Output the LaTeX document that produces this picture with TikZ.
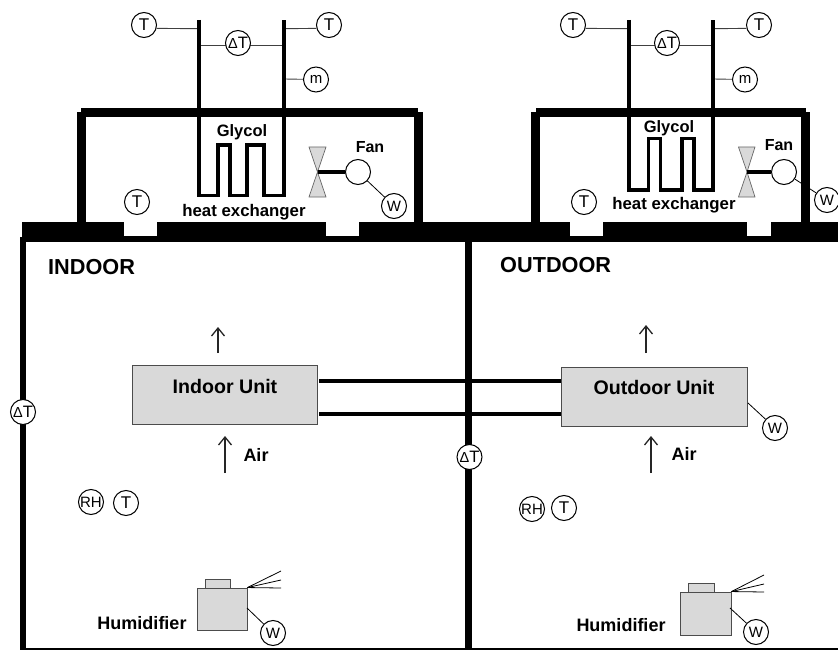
\documentclass[tikz,border=0pt]{standalone}
\usepackage{fontspec}
\setmainfont{Liberation Sans}
\usetikzlibrary{arrows.meta}
\newcommand{\dT}{{\fontsize{14.5}{14.5}\selectfont Δ}T}
\tikzset{
  sensor/.style={circle,draw=black,fill=white,line width=1pt,minimum size=25pt,inner sep=0pt,font=\fontsize{17}{17}\selectfont},
  small/.style={sensor,font=\fontsize{15}{15}\selectfont},
  delta/.style={sensor,font=\fontsize{16.5}{16.5}\selectfont},
  lab/.style={inner sep=0pt,font=\fontsize{#1}{#1}\bfseries\selectfont},
  wall/.style={fill=black},
  pipe/.style={line width=3.7pt,draw=black,line join=miter,line cap=butt},
  tube/.style={line width=4pt,draw=black},
  thin/.style={line width=0.9pt,draw=black!75},
  wire/.style={line width=0.8pt,draw=black},
  unit/.style={rectangle,draw=black!70,fill=black!15,line width=1pt,inner sep=0pt},
  fanblade/.style={draw=black!60,fill=black!15,line width=0.7pt},
  flow/.style={line width=1.4pt,draw=black!85,-{Straight Barb[length=8pt,width=13pt,line width=1.3pt]}},
}
\begin{document}
\begin{tikzpicture}[x=1pt,y=-1pt]
\useasboundingbox (0,0) rectangle (838,650);
\clip (0,0) rectangle (838,650);
% roof slab with openings
\fill[wall] (22,222) rectangle (838,242);
\fill[white] (124,222) rectangle (157,236);
\fill[white] (326,222) rectangle (359,236);
\fill[white] (570,222) rectangle (603,236);
\fill[white] (747,222) rectangle (771,236);
% room walls
\fill[wall] (20,237) rectangle (26,650);
\fill[wall] (465,240) rectangle (472,650);
\fill[wall] (20,648) rectangle (838,650);
% ---------- left roof unit
\coordinate (LA) at (199,20);
\coordinate (LB) at (284,20);
\coordinate (LAt) at (199,28.7);
\coordinate (LBt) at (284,28.7);
\coordinate (LAd) at (199,45);
\coordinate (LBd) at (284,45);
\coordinate (LBm) at (284,79);
\node[sensor] (T1) at (144,25) {T};
\node[sensor] (T2) at (329,25) {T};
\node[small] (m1) at (316,79.5) {m};
\draw[thin] (T1.-15) -- (LAt);
\draw[thin] (T2.195) -- (LBt);
\draw[thin] (LBm) -- (m1);
\draw[thin] (LAd) -- (LBd);
\node[delta] (dT1) at (238,43) {\dT};
\draw[pipe] (LA) -- (199,195.5) -- (218,195.5) -- (218,145) -- (230,145) -- (230,195.5) -- (247,195.5) -- (247,145) -- (264,145) -- (264,195.5) -- (284,195.5) -- (LB);
\node[circle,draw=black,fill=white,line width=1pt,minimum size=25pt,inner sep=0pt] (fan1) at (358,172) {};
\node[small] (W1) at (394,206) {W};
\draw[wire] (fan1) -- (W1);
\coordinate (hub1) at (317.5,172);
\draw[fanblade] (309,147) -- (326,147) -- (hub1) -- cycle;
\draw[fanblade] (309,197) -- (326,197) -- (hub1) -- cycle;
\draw[tube] (hub1) -- (fan1);
\fill[wall] (81,108) rectangle (418,117);
\fill[wall] (77,112) rectangle (86,222);
\fill[wall] (414,112) rectangle (423,222);
\node[sensor] (T3) at (137,202) {T};
\node[lab=16.5] (gly1) at (242,132) {Glycol};
\node[lab=16] (fant1) at (370,147) {Fan};
\node[lab=16.8] (hx1) at (244,212) {heat exchanger};
% ---------- right roof unit
\coordinate (RA) at (629,20);
\coordinate (RB) at (713,20);
\coordinate (RAt) at (629,28.7);
\coordinate (RBt) at (713,28.7);
\coordinate (RAd) at (629,45);
\coordinate (RBd) at (713,45);
\coordinate (RBm) at (713,79);
\node[sensor] (T4) at (573,25) {T};
\node[sensor] (T5) at (759,25) {T};
\node[small] (m2) at (745,79.5) {m};
\draw[thin] (T4.-15) -- (RAt);
\draw[thin] (T5.195) -- (RBt);
\draw[thin] (RBm) -- (m2);
\draw[thin] (RAd) -- (RBd);
\node[delta] (dT2) at (667,43) {\dT};
\draw[pipe] (RA) -- (629,190) -- (648.5,190) -- (648.5,138.5) -- (660.5,138.5) -- (660.5,190) -- (682,190) -- (682,138.5) -- (694,138.5) -- (694,190) -- (713,190) -- (RB);
\node[circle,draw=black,fill=white,line width=1pt,minimum size=25pt,inner sep=0pt] (fan2) at (784,172) {};
\node[small] (W2) at (827,200) {W};
\draw[wire] (fan2) -- (W2);
\coordinate (hub2) at (747,172);
\draw[fanblade] (738.5,147) -- (755,147) -- (hub2) -- cycle;
\draw[fanblade] (738.5,197) -- (755,197) -- (hub2) -- cycle;
\draw[tube] (hub2) -- (fan2);
\fill[wall] (536,108) rectangle (806,117);
\fill[wall] (531,112) rectangle (540,222);
\fill[wall] (801,112) rectangle (810,222);
\node[sensor] (T6) at (584,202) {T};
\node[lab=16.5] (gly2) at (669,128) {Glycol};
\node[lab=16] (fant2) at (779,145) {Fan};
\node[lab=16.8] (hx2) at (674,205) {heat exchanger};
% ---------- room labels
\node[lab=21.7,anchor=west] (indoor) at (48,267) {INDOOR};
\node[lab=21.7,anchor=west] (outdoor) at (500,265) {OUTDOOR};
% ---------- units
\node[unit,minimum width=185pt,minimum height=59pt] (IU) at (224.5,394.5) {};
\node[lab=19.6] (IUt) at (225,386) {Indoor Unit};
\node[unit,minimum width=186pt,minimum height=59pt] (OU) at (654,396.5) {};
\node[lab=19.6] (OUt) at (654,387) {Outdoor Unit};
\coordinate (Ia) at (319,381);
\coordinate (Ib) at (319,414);
\draw[tube] (Ia) -- (Ia -| OU.west);
\draw[tube] (Ib) -- (Ib -| OU.west);
\node[small] (W3) at (775,428) {W};
\coordinate (OUw) at (748,403);
\draw[wire] (OUw) -- (W3);
% ---------- air flow
\coordinate (A1s) at (225,473); \coordinate (A1e) at (225,436);
\coordinate (A2s) at (218,353); \coordinate (A2e) at (218,327);
\coordinate (A3s) at (651,473); \coordinate (A3e) at (651,436);
\coordinate (A4s) at (646,353); \coordinate (A4e) at (646,325);
\draw[flow] (A1s) -- (A1e);
\draw[flow] (A2s) -- (A2e);
\draw[flow] (A3s) -- (A3e);
\draw[flow] (A4s) -- (A4e);
\node[lab=18] (air1) at (256,455) {Air};
\node[lab=18] (air2) at (684,454) {Air};
% ---------- wall and room sensors
\node[delta] (dT3) at (23,412) {\dT};
\node[delta] (dT4) at (469.5,457) {\dT};
\node[small] (RH1) at (91,502) {RH};
\node[sensor] (T7) at (126,503) {T};
\node[small] (RH2) at (532,509) {RH};
\node[sensor] (T8) at (564,508) {T};
% ---------- humidifiers
\node[unit,line width=0.9pt,minimum width=25pt,minimum height=9pt] (hu1t) at (217.5,583.5) {};
\node[unit,line width=0.9pt,minimum width=50pt,minimum height=42pt] (hu1) at (222,609) {};
\draw[wire] (hu1.north east) -- (281,571);
\draw[wire] (hu1.north east) -- (281,580);
\draw[wire] (hu1.north east) -- (281,588);
\node[small] (W4) at (273,633) {W};
\coordinate (hu1w) at (247,608);
\draw[wire] (hu1w) -- (W4);
\node[lab=18] (humt1) at (142,623) {Humidifier};
\node[unit,line width=0.9pt,minimum width=26pt,minimum height=9pt] (hu2t) at (701,588) {};
\node[unit,line width=0.9pt,minimum width=51pt,minimum height=43pt] (hu2) at (705.5,613.5) {};
\draw[wire] (hu2.north east) -- (764,575);
\draw[wire] (hu2.north east) -- (764,584);
\draw[wire] (hu2.north east) -- (764,592);
\node[small] (W5) at (756,632) {W};
\coordinate (hu2w) at (730,608);
\draw[wire] (hu2w) -- (W5);
\node[lab=18] (humt2) at (621,625) {Humidifier};
\end{tikzpicture}
\end{document}
